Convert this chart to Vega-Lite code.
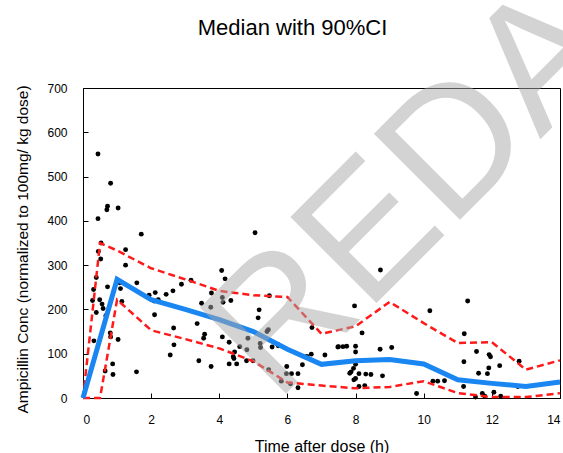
{
  "$schema": "https://vega.github.io/schema/vega-lite/v6.json",
  "autosize": {"type": "none"},
  "width": 477,
  "height": 310,
  "padding": {"left": 83, "top": 88, "right": 3, "bottom": 55},
  "background": "white",
  "config": {
    "font": "Liberation Sans",
    "view": {"stroke": "black", "strokeWidth": 1},
    "axis": {"grid": false, "domainColor": "black", "tickColor": "black", "labelColor": "black", "titleColor": "black", "labelFont": "Liberation Sans", "titleFont": "Liberation Sans", "titleFontWeight": "normal", "labelFontSize": 12}
  },
  "title": {"text": "Median with 90%CI", "fontSize": 22, "fontWeight": "normal", "font": "Liberation Sans", "color": "black", "dx": -29, "offset": -84},
  "datasets": {
    "obs": [
      {"time": 0.44, "conc": 551}, {"time": 0.81, "conc": 485}, {"time": 0.72, "conc": 433}, {"time": 0.70, "conc": 425},
      {"time": 1.03, "conc": 429}, {"time": 0.44, "conc": 405}, {"time": 0.53, "conc": 350}, {"time": 0.45, "conc": 331},
      {"time": 1.25, "conc": 335}, {"time": 0.52, "conc": 314}, {"time": 1.25, "conc": 300}, {"time": 0.39, "conc": 272},
      {"time": 0.72, "conc": 251}, {"time": 1.03, "conc": 263}, {"time": 1.08, "conc": 260}, {"time": 1.10, "conc": 247},
      {"time": 0.31, "conc": 245}, {"time": 0.28, "conc": 220}, {"time": 0.49, "conc": 222}, {"time": 0.56, "conc": 212},
      {"time": 0.59, "conc": 202}, {"time": 0.39, "conc": 193}, {"time": 1.14, "conc": 218}, {"time": 0.67, "conc": 186},
      {"time": 0.32, "conc": 129}, {"time": 0.80, "conc": 147}, {"time": 0.81, "conc": 138}, {"time": 1.03, "conc": 132},
      {"time": 0.87, "conc": 77}, {"time": 0.65, "conc": 61}, {"time": 0.88, "conc": 53}, {"time": 1.57, "conc": 59},
      {"time": 1.58, "conc": 260}, {"time": 1.71, "conc": 370}, {"time": 2.12, "conc": 238}, {"time": 1.94, "conc": 232},
      {"time": 2.09, "conc": 219}, {"time": 2.21, "conc": 222}, {"time": 2.44, "conc": 234}, {"time": 2.64, "conc": 242},
      {"time": 2.10, "conc": 188}, {"time": 2.66, "conc": 158}, {"time": 2.67, "conc": 120}, {"time": 2.56, "conc": 97},
      {"time": 2.89, "conc": 257}, {"time": 3.17, "conc": 266}, {"time": 3.35, "conc": 168}, {"time": 3.40, "conc": 84},
      {"time": 5.05, "conc": 373}, {"time": 4.07, "conc": 288}, {"time": 4.17, "conc": 269}, {"time": 3.77, "conc": 237},
      {"time": 3.48, "conc": 214}, {"time": 3.75, "conc": 205}, {"time": 4.09, "conc": 227}, {"time": 4.11, "conc": 216},
      {"time": 4.34, "conc": 220}, {"time": 5.47, "conc": 231}, {"time": 5.17, "conc": 199}, {"time": 5.14, "conc": 181},
      {"time": 3.57, "conc": 144}, {"time": 3.54, "conc": 135}, {"time": 4.09, "conc": 138}, {"time": 4.29, "conc": 126},
      {"time": 4.60, "conc": 116}, {"time": 4.45, "conc": 104}, {"time": 4.41, "conc": 93}, {"time": 4.84, "conc": 135},
      {"time": 4.81, "conc": 109}, {"time": 5.20, "conc": 123}, {"time": 5.21, "conc": 114}, {"time": 5.40, "conc": 150},
      {"time": 5.44, "conc": 154}, {"time": 3.76, "conc": 71}, {"time": 4.29, "conc": 77}, {"time": 4.51, "conc": 77},
      {"time": 4.43, "conc": 89}, {"time": 4.80, "conc": 84}, {"time": 4.99, "conc": 84}, {"time": 5.45, "conc": 64},
      {"time": 5.72, "conc": 121}, {"time": 5.73, "conc": 118}, {"time": 5.55, "conc": 115}, {"time": 5.82, "conc": 38},
      {"time": 5.97, "conc": 55}, {"time": 5.98, "conc": 71}, {"time": 6.12, "conc": 55}, {"time": 6.31, "conc": 55},
      {"time": 6.09, "conc": 32}, {"time": 6.31, "conc": 23}, {"time": 6.57, "conc": 94}, {"time": 6.70, "conc": 99},
      {"time": 6.44, "conc": 75}, {"time": 6.72, "conc": 159}, {"time": 7.10, "conc": 97}, {"time": 7.50, "conc": 116},
      {"time": 8.73, "conc": 289}, {"time": 7.97, "conc": 208}, {"time": 8.19, "conc": 147}, {"time": 7.48, "conc": 115},
      {"time": 7.63, "conc": 116}, {"time": 7.74, "conc": 117}, {"time": 8.00, "conc": 117}, {"time": 8.00, "conc": 104},
      {"time": 8.72, "conc": 110}, {"time": 9.06, "conc": 114}, {"time": 8.00, "conc": 76}, {"time": 7.94, "conc": 67},
      {"time": 7.87, "conc": 59}, {"time": 7.83, "conc": 56}, {"time": 8.10, "conc": 55}, {"time": 8.30, "conc": 54},
      {"time": 8.45, "conc": 53}, {"time": 8.00, "conc": 44}, {"time": 7.95, "conc": 41}, {"time": 8.79, "conc": 50},
      {"time": 8.10, "conc": 26}, {"time": 8.27, "conc": 28}, {"time": 9.79, "conc": 10}, {"time": 11.29, "conc": 219},
      {"time": 10.18, "conc": 197}, {"time": 11.19, "conc": 145}, {"time": 11.55, "conc": 105}, {"time": 11.18, "conc": 82},
      {"time": 11.92, "conc": 98}, {"time": 11.96, "conc": 93}, {"time": 11.91, "conc": 68}, {"time": 11.87, "conc": 55},
      {"time": 11.61, "conc": 56}, {"time": 10.27, "conc": 38}, {"time": 10.41, "conc": 38}, {"time": 10.61, "conc": 39},
      {"time": 11.17, "conc": 26}, {"time": 11.52, "conc": 2}, {"time": 11.72, "conc": 10}, {"time": 11.79, "conc": 4},
      {"time": 12.80, "conc": 83}, {"time": 12.23, "conc": 73}, {"time": 12.76, "conc": 26}, {"time": 12.06, "conc": 13},
      {"time": 12.26, "conc": 4}
    ],
    "median": [
      {"time": 0, "conc": 0}, {"time": 1, "conc": 268}, {"time": 2, "conc": 222}, {"time": 3, "conc": 200},
      {"time": 4, "conc": 177}, {"time": 5, "conc": 150}, {"time": 6, "conc": 110}, {"time": 7, "conc": 76},
      {"time": 8, "conc": 84}, {"time": 9, "conc": 87}, {"time": 10, "conc": 77}, {"time": 11, "conc": 41},
      {"time": 12, "conc": 33}, {"time": 13, "conc": 26}, {"time": 14, "conc": 36}
    ],
    "ci": [
      {"bound": "upper", "time": 0, "conc": 0}, {"bound": "upper", "time": 0.5, "conc": 350}, {"bound": "upper", "time": 1, "conc": 333},
      {"bound": "upper", "time": 2, "conc": 293}, {"bound": "upper", "time": 3, "conc": 268}, {"bound": "upper", "time": 4, "conc": 242},
      {"bound": "upper", "time": 5, "conc": 232}, {"bound": "upper", "time": 6, "conc": 228}, {"bound": "upper", "time": 7, "conc": 145},
      {"bound": "upper", "time": 8, "conc": 162}, {"bound": "upper", "time": 9, "conc": 217}, {"bound": "upper", "time": 10, "conc": 169},
      {"bound": "upper", "time": 11, "conc": 124}, {"bound": "upper", "time": 12, "conc": 126}, {"bound": "upper", "time": 13, "conc": 64},
      {"bound": "upper", "time": 14, "conc": 85},
      {"bound": "lower", "time": 0, "conc": 0}, {"bound": "lower", "time": 0.5, "conc": 0}, {"bound": "lower", "time": 1, "conc": 222},
      {"bound": "lower", "time": 2, "conc": 153}, {"bound": "lower", "time": 3, "conc": 133}, {"bound": "lower", "time": 4, "conc": 112},
      {"bound": "lower", "time": 5, "conc": 83}, {"bound": "lower", "time": 6, "conc": 35}, {"bound": "lower", "time": 7, "conc": 28},
      {"bound": "lower", "time": 8, "conc": 22}, {"bound": "lower", "time": 9, "conc": 25}, {"bound": "lower", "time": 10, "conc": 38},
      {"bound": "lower", "time": 11, "conc": 11}, {"bound": "lower", "time": 12, "conc": 2}, {"bound": "lower", "time": 13, "conc": 2},
      {"bound": "lower", "time": 14, "conc": 11}
    ],
    "mark": [{"label": "REDA", "time": 5.66, "conc": -13}]
  },
  "encoding": {
    "x": {"field": "time", "type": "quantitative", "scale": {"domain": [0, 14], "nice": false},
      "axis": {"title": "Time after dose (h)", "values": [0, 2, 4, 6, 8, 10, 12, 14], "tickSize": -5, "labelPadding": 21, "titleFontSize": 16, "titlePadding": 13}},
    "y": {"field": "conc", "type": "quantitative", "scale": {"domain": [0, 700], "nice": false},
      "axis": {"title": "Ampicillin Conc (normalized to 100mg/ kg dose)", "values": [0, 100, 200, 300, 400, 500, 600, 700], "tickSize": -5, "labelPadding": 21, "titleFontSize": 15.5, "titlePadding": 16, "titleY": 161}}
  },
  "layer": [
    {"data": {"name": "obs"}, "mark": {"type": "circle", "color": "black", "size": 24, "opacity": 1}},
    {"data": {"name": "ci"}, "mark": {"type": "line", "color": "#ff1a1a", "strokeWidth": 2.5, "strokeDash": [7, 4]}, "encoding": {"detail": {"field": "bound"}}},
    {"data": {"name": "median"}, "mark": {"type": "line", "color": "#1a86f2", "strokeWidth": 5}},
    {"data": {"name": "mark"}, "mark": {"type": "text", "angle": 315, "fontSize": 177, "font": "Liberation Sans", "align": "left", "baseline": "alphabetic", "color": "#a8a8a8", "opacity": 0.5},
      "encoding": {"text": {"field": "label"}}}
  ]
}
